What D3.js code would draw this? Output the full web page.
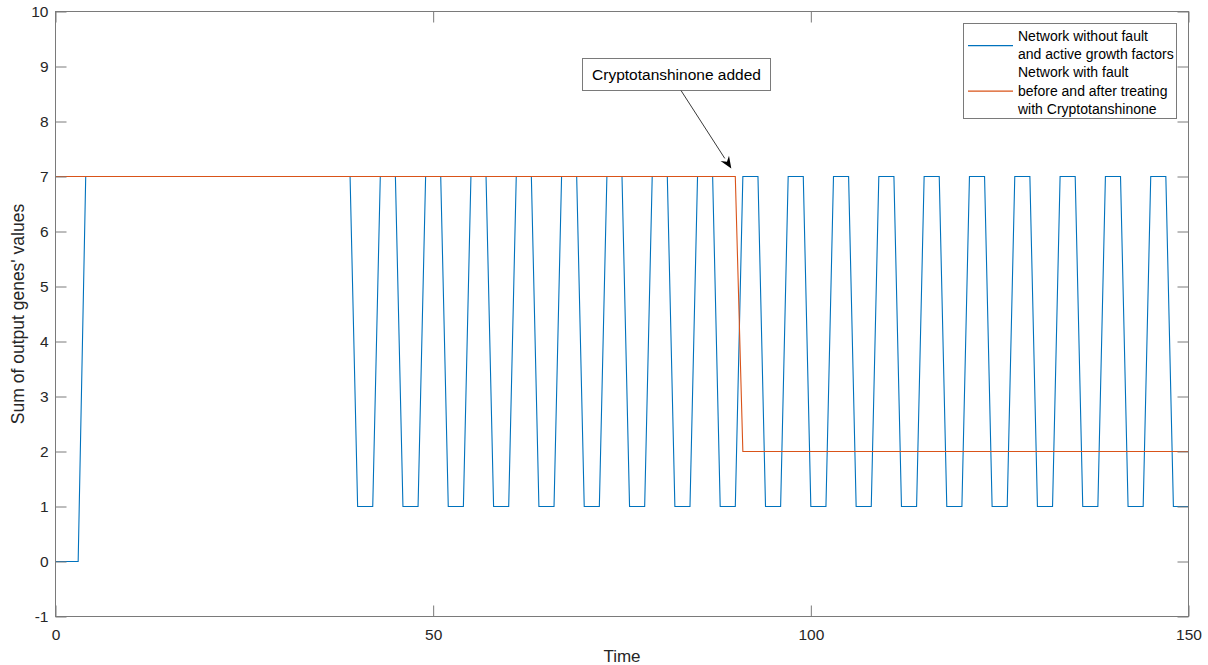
<!DOCTYPE html>
<html>
<head>
<meta charset="utf-8">
<script src="https://cdn.jsdelivr.net/npm/d3@7"></script>
<style>
  html, body { margin: 0; padding: 0; background: #fff; }
  svg { display: block; font-family: "Liberation Sans", Arial, Helvetica, sans-serif; }
</style>
</head>
<body>
<svg id="chart" width="1208" height="665"></svg>
<script>
// Sum of output genes' values per simulation time step
const healthyNetwork = [
  0, 0, 0, 0, 7, 7, 7, 7, 7, 7,
  7, 7, 7, 7, 7, 7, 7, 7, 7, 7,
  7, 7, 7, 7, 7, 7, 7, 7, 7, 7,
  7, 7, 7, 7, 7, 7, 7, 7, 7, 7,
  1, 1, 1, 7, 7, 7, 1, 1, 1, 7,
  7, 7, 1, 1, 1, 7, 7, 7, 1, 1,
  1, 7, 7, 7, 1, 1, 1, 7, 7, 7,
  1, 1, 1, 7, 7, 7, 1, 1, 1, 7,
  7, 7, 1, 1, 1, 7, 7, 7, 1, 1,
  1, 7, 7, 7, 1, 1, 1, 7, 7, 7,
  1, 1, 1, 7, 7, 7, 1, 1, 1, 7,
  7, 7, 1, 1, 1, 7, 7, 7, 1, 1,
  1, 7, 7, 7, 1, 1, 1, 7, 7, 7,
  1, 1, 1, 7, 7, 7, 1, 1, 1, 7,
  7, 7, 1, 1, 1, 7, 7, 7, 1, 1,
  1
];
const faultyNetwork = [
  7, 7, 7, 7, 7, 7, 7, 7, 7, 7,
  7, 7, 7, 7, 7, 7, 7, 7, 7, 7,
  7, 7, 7, 7, 7, 7, 7, 7, 7, 7,
  7, 7, 7, 7, 7, 7, 7, 7, 7, 7,
  7, 7, 7, 7, 7, 7, 7, 7, 7, 7,
  7, 7, 7, 7, 7, 7, 7, 7, 7, 7,
  7, 7, 7, 7, 7, 7, 7, 7, 7, 7,
  7, 7, 7, 7, 7, 7, 7, 7, 7, 7,
  7, 7, 7, 7, 7, 7, 7, 7, 7, 7,
  7, 2, 2, 2, 2, 2, 2, 2, 2, 2,
  2, 2, 2, 2, 2, 2, 2, 2, 2, 2,
  2, 2, 2, 2, 2, 2, 2, 2, 2, 2,
  2, 2, 2, 2, 2, 2, 2, 2, 2, 2,
  2, 2, 2, 2, 2, 2, 2, 2, 2, 2,
  2, 2, 2, 2, 2, 2, 2, 2, 2, 2,
  2
];
const xTicks = [0, 50, 100, 150];
const yTicks = [-1, 0, 1, 2, 3, 4, 5, 6, 7, 8, 9, 10];
const seriesNames = [
  ["Network without fault", "and active growth factors"],
  ["Network with fault", "before and after treating", "with Cryptotanshinone"]
];
const seriesColors = ["#0072BD", "#D95319"];
const annotationText = "Cryptotanshinone added";
const annotationTime = 90;
const annotationValue = 7;

const svg = d3.select("#chart");
const plot = { left: 55.5, right: 1188.5, top: 11.5, bottom: 616.5 };
const axisColor = "#7a7a7a";
const textColor = "#262626";

const x = d3.scaleLinear().domain([0, 150]).range([plot.left, plot.right]);
const y = d3.scaleLinear().domain([-1, 10]).range([plot.bottom, plot.top]);

// data lines
const line = d3.line().x((d, i) => x(i)).y(d => y(d));
[healthyNetwork, faultyNetwork].forEach((s, k) => {
  svg.append("path")
    .datum(s)
    .attr("d", line)
    .attr("fill", "none")
    .attr("stroke", seriesColors[k])
    .attr("stroke-width", 1.1)
    .attr("stroke-linejoin", "miter");
});

// axes with inward ticks on all four sides
const tickLen = 11;
const plain = d => String(d);
const bottomAxis = d3.axisBottom(x).tickValues(xTicks).tickSize(-tickLen).tickFormat(plain);
const topAxis = d3.axisTop(x).tickValues(xTicks).tickSize(-tickLen).tickFormat("");
const leftAxis = d3.axisLeft(y).tickValues(yTicks).tickSize(-tickLen).tickFormat(plain);
const rightAxis = d3.axisRight(y).tickValues(yTicks).tickSize(-tickLen).tickFormat("");

function styleAxis(g) {
  g.select(".domain").remove();
  g.selectAll(".tick line").attr("stroke", axisColor);
  g.selectAll(".tick text")
    .attr("fill", textColor)
    .style("font-size", "15.5px")
    .style("font-family", "'Liberation Sans', Arial, sans-serif");
}
svg.append("g").attr("transform", `translate(0,${plot.bottom})`).call(bottomAxis).call(styleAxis)
  .selectAll(".tick text").attr("dy", "0.35em").attr("y", 18);
svg.append("g").attr("transform", `translate(0,${plot.top})`).call(topAxis).call(styleAxis);
svg.append("g").attr("transform", `translate(${plot.left},0)`).call(leftAxis).call(styleAxis)
  .selectAll(".tick text").attr("x", -7);
svg.append("g").attr("transform", `translate(${plot.right},0)`).call(rightAxis).call(styleAxis);

// box
svg.append("rect")
  .attr("x", plot.left).attr("y", plot.top)
  .attr("width", plot.right - plot.left).attr("height", plot.bottom - plot.top)
  .attr("fill", "none").attr("stroke", axisColor).attr("stroke-width", 1);

// axis titles
svg.append("text")
  .attr("x", (plot.left + plot.right) / 2).attr("y", 662)
  .attr("text-anchor", "middle").attr("fill", textColor)
  .style("font-size", "17px").text("Time");
svg.append("text")
  .attr("transform", `translate(24,${(plot.top + plot.bottom) / 2}) rotate(-90)`)
  .attr("text-anchor", "middle").attr("fill", textColor)
  .style("font-size", "17.5px").text("Sum of output genes' values");

// legend
const legend = svg.append("g");
const lg = { left: 963.5, top: 23.5, right: 1176.5, bottom: 118.5 };
legend.append("rect")
  .attr("x", lg.left).attr("y", lg.top)
  .attr("width", lg.right - lg.left).attr("height", lg.bottom - lg.top)
  .attr("fill", "#fff").attr("stroke", axisColor).attr("stroke-width", 1);
const lineH = 18.2;
let row = 0;
seriesNames.forEach((lines, k) => {
  const firstRow = row;
  lines.forEach(t => {
    legend.append("text")
      .attr("x", 1018).attr("y", 41 + row * lineH)
      .attr("fill", "#000").style("font-size", "14px").text(t);
    row++;
  });
  const midY = 41 + ((firstRow + row - 1) / 2) * lineH - 4.5;
  legend.append("line")
    .attr("x1", 968).attr("x2", 1013)
    .attr("y1", midY).attr("y2", midY)
    .attr("stroke", seriesColors[k]).attr("stroke-width", 1.1);
});

// annotation: text box with arrow pointing at the treatment step
const ann = svg.append("g");
const box = { left: 582.5, top: 58.5, right: 770.5, bottom: 90.5 };
ann.append("rect")
  .attr("x", box.left).attr("y", box.top)
  .attr("width", box.right - box.left).attr("height", box.bottom - box.top)
  .attr("fill", "#fff").attr("stroke", axisColor).attr("stroke-width", 1);
ann.append("text")
  .attr("x", (box.left + box.right) / 2).attr("y", box.top + 21)
  .attr("text-anchor", "middle").attr("fill", "#000")
  .style("font-size", "15.5px").text(annotationText);

const ax0 = 681, ay0 = box.bottom;
const ax1 = x(annotationTime) - 4, ay1 = y(annotationValue) - 8;
const ang = Math.atan2(ay1 - ay0, ax1 - ax0);
const headLen = 12, headW = 5;
const bx = ax1 - headLen * Math.cos(ang), by = ay1 - headLen * Math.sin(ang);
ann.append("line")
  .attr("x1", ax0).attr("y1", ay0).attr("x2", bx).attr("y2", by)
  .attr("stroke", "#222").attr("stroke-width", 0.9);
const px = -Math.sin(ang), py = Math.cos(ang);
const notch = 4;
const nx = ax1 - (headLen - notch) * Math.cos(ang), ny = ay1 - (headLen - notch) * Math.sin(ang);
ann.append("path")
  .attr("d", `M${ax1},${ay1} L${bx + px * headW},${by + py * headW} L${nx},${ny} L${bx - px * headW},${by - py * headW} Z`)
  .attr("fill", "#000");
</script>
</body>
</html>
